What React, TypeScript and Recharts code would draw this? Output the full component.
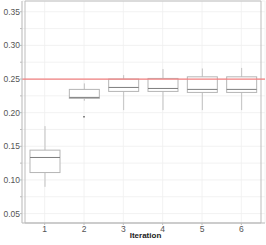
import { ComposedChart, Bar, Scatter, XAxis, YAxis, CartesianGrid, ReferenceLine, ReferenceArea } from 'recharts';

const iterations = ['1', '2', '3', '4', '5', '6'];
const whiskerLow = [0.0897, 0.2177, 0.2038, 0.2038, 0.2038, 0.2038];
const q1 = [0.111, 0.2212, 0.2316, 0.2316, 0.2301, 0.2301];
const median = [0.1334, 0.2227, 0.2375, 0.236, 0.2346, 0.2346];
const q3 = [0.1443, 0.2346, 0.25, 0.2509, 0.2533, 0.2533];
const whiskerHigh = [0.18, 0.2435, 0.2558, 0.2648, 0.2657, 0.2665];
const outlier = [null, 0.1938, null, null, null, null];
const target = 0.25;

const yTicks = [0.05, 0.075, 0.1, 0.125, 0.15, 0.175, 0.2, 0.225, 0.25, 0.275, 0.3, 0.325, 0.35];
const majorTicks = [0.05, 0.1, 0.15, 0.2, 0.25, 0.3, 0.35];

const data = iterations.map((iter, i) => ({
  iter,
  box: [q1[i], q3[i]],
  whisker: [whiskerLow[i], whiskerHigh[i]],
  q1: q1[i],
  q3: q3[i],
  median: median[i],
  outlier: outlier[i],
}));

const font = "'Liberation Sans Narrow', 'Liberation Sans', Arial, sans-serif";
const tick = { fontSize: 8.5, fill: '#555', fontFamily: font };

// box rect + median line; median sits inside the box so scale it from the bar's own y/height
function BoxShape(props: any) {
  const { x, y, width, height, payload } = props;
  if (x == null || y == null) return null;
  const my = y + (height * (payload.q3 - payload.median)) / (payload.q3 - payload.q1);
  return (
    <g>
      <rect x={x} y={y} width={width} height={height} fill="#fff" stroke="#b5b5b5" strokeWidth={1} />
      <line x1={x} x2={x + width} y1={my} y2={my} stroke="#7e7e7e" strokeWidth={1} />
    </g>
  );
}

function WhiskerShape(props: any) {
  const { x, y, width, height } = props;
  if (x == null || y == null) return null;
  const cx = x + width / 2;
  return <line x1={cx} x2={cx} y1={y} y2={y + height} stroke="#c2c2c2" strokeWidth={1} />;
}

function Dot(props: any) {
  const { cx, cy, payload } = props;
  if (payload?.outlier == null || !isFinite(cy)) return null;
  return <circle cx={cx} cy={cy} r={0.8} fill="#444" />;
}

export default function App() {
  return (
    <div style={{ position: 'absolute', left: 0, top: 0 }}>
      <ComposedChart width={266} height={245} data={data} margin={{ top: 1, right: 1, left: 0, bottom: 0 }}>
        <CartesianGrid stroke="#efefef" strokeWidth={0.8} />
        <ReferenceArea y1={0.036} y2={0.366} fill="none" stroke="#bdbdbd" strokeWidth={1} ifOverflow="visible" />
        <XAxis
          dataKey="iter"
          xAxisId={0}
          padding={{ left: 3, right: 4 }}
          tick={tick}
          tickSize={2}
          tickMargin={1}
          stroke="#bdbdbd"
          height={22}
          interval={0}
          label={{ value: 'Iteration', position: 'insideBottom', offset: 7, dx: 2, style: { fontSize: 8, fontWeight: 'bold', fill: '#222', fontFamily: font } }}
        />
        <XAxis dataKey="iter" xAxisId="w" padding={{ left: 3, right: 4 }} hide />
        <YAxis
          type="number"
          domain={[0.036, 0.366]}
          ticks={yTicks}
          allowDataOverflow
          tickFormatter={(v: number) => (majorTicks.some((m) => Math.abs(m - v) < 1e-6) ? v.toFixed(2) : '')}
          tick={tick}
          tickSize={2}
          tickMargin={0}
          stroke="#bdbdbd"
          width={22}
          interval={0}
        />
        <Bar xAxisId="w" dataKey="whisker" barSize={30} shape={<WhiskerShape />} isAnimationActive={false} />
        <Bar xAxisId={0} dataKey="box" barSize={30} shape={<BoxShape />} isAnimationActive={false} />
        <Scatter dataKey="outlier" shape={<Dot />} isAnimationActive={false} />
        <ReferenceLine y={target} stroke="#f28080" strokeWidth={1.2} />
      </ComposedChart>
    </div>
  );
}
